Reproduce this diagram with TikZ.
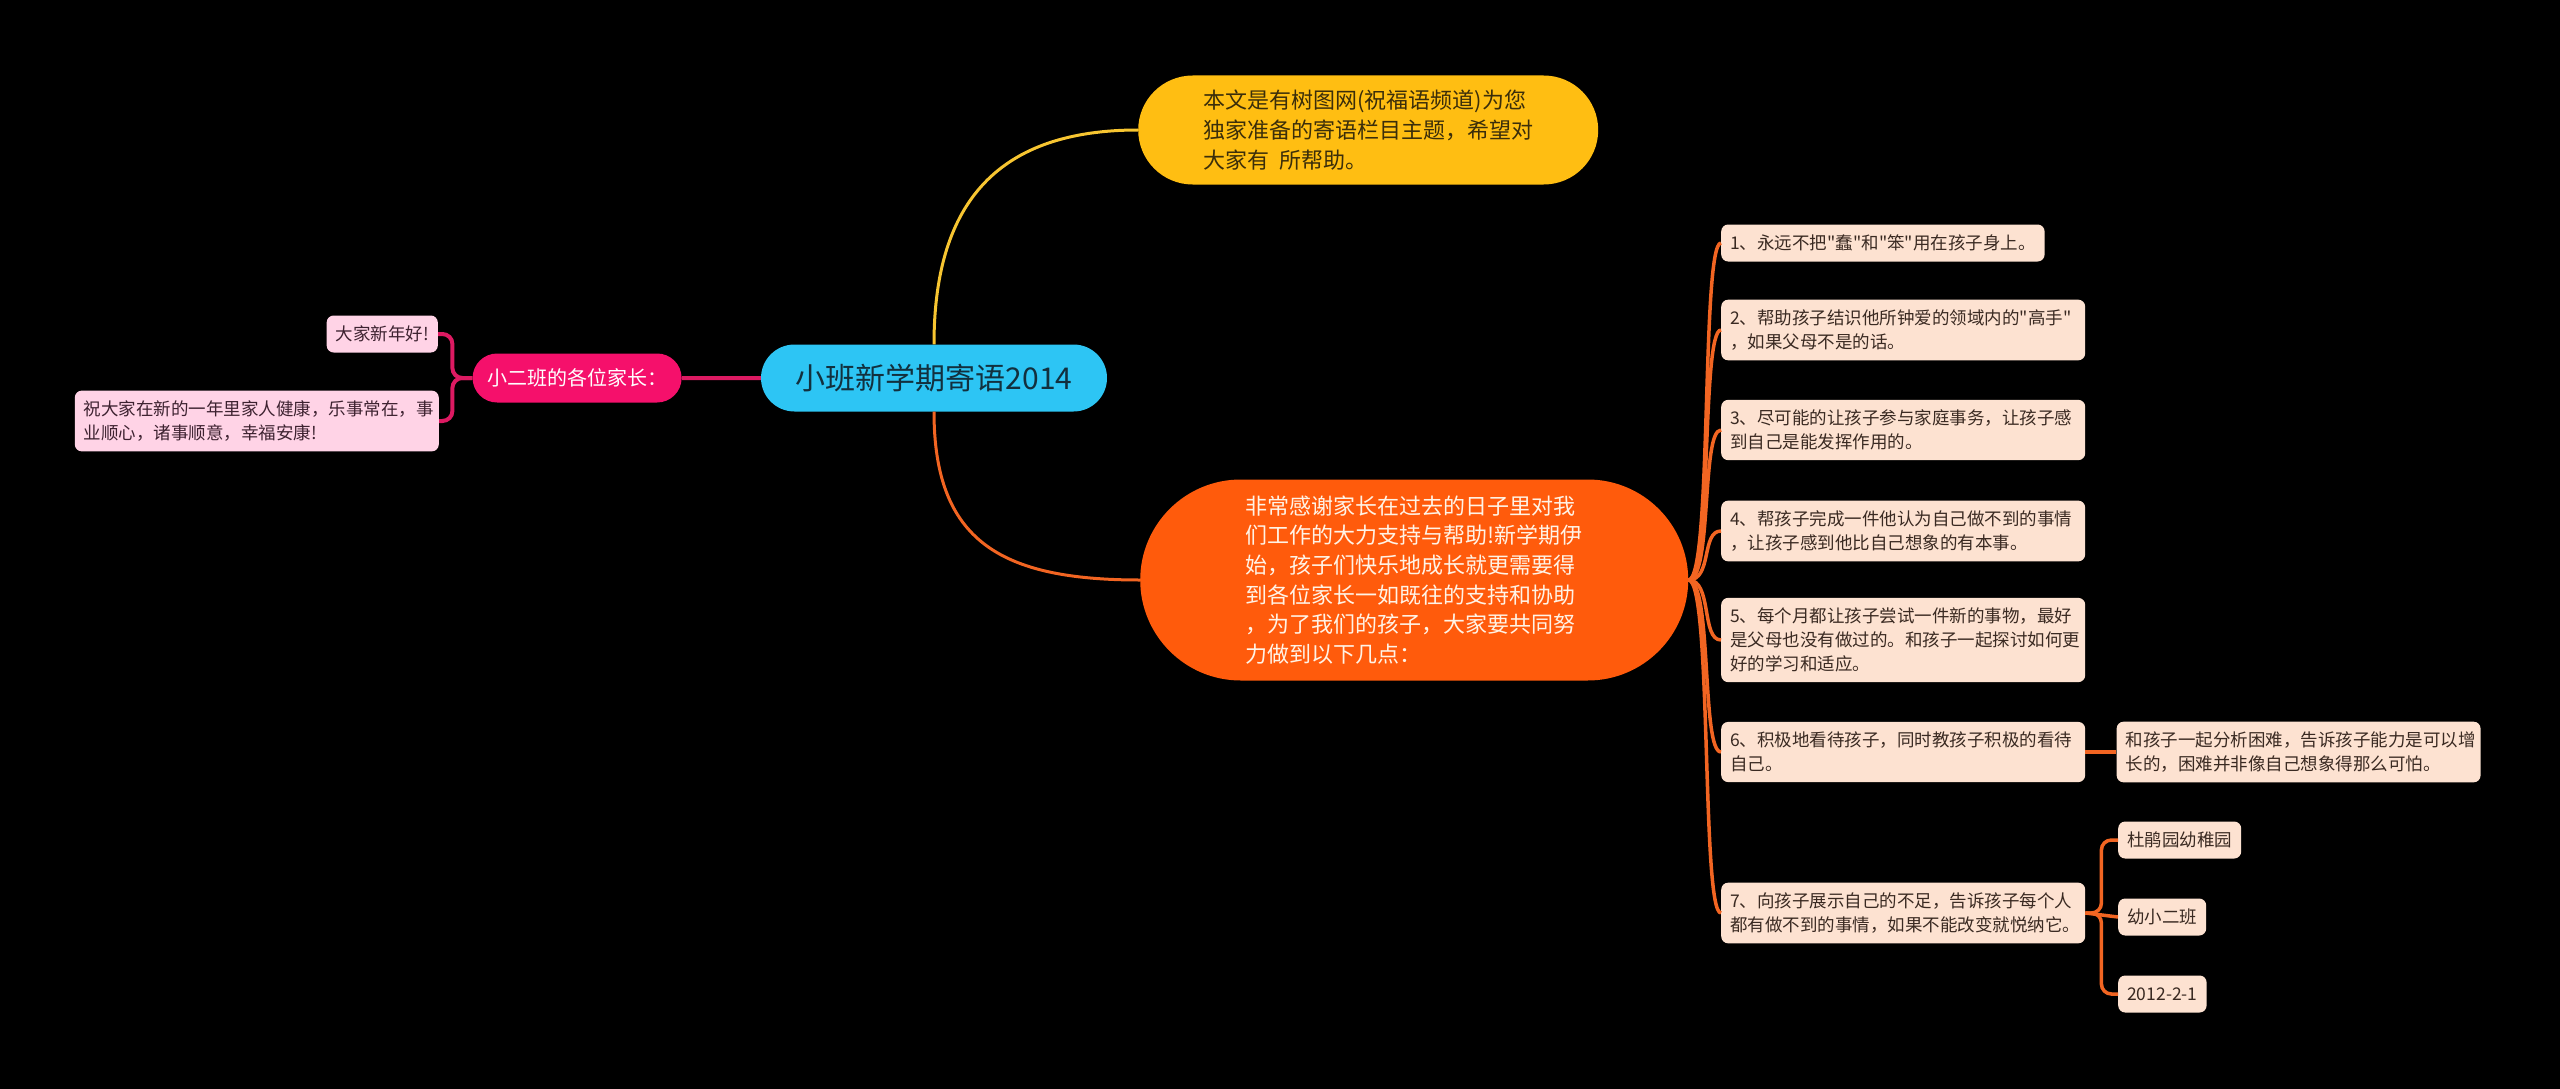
\documentclass[tikz,border=0pt]{standalone}
\usepackage{fontspec}
\setmainfont{Noto Sans CJK SC}[Ligatures=TeXOff]
\usetikzlibrary{positioning,shapes.misc}
\definecolor{rootfill}{HTML}{2DC5F4}
\definecolor{roottext}{HTML}{12303E}
\definecolor{pinkfill}{HTML}{F5106B}
\definecolor{pinkline}{HTML}{DD1A62}
\definecolor{kidfill}{HTML}{FFD3E6}
\definecolor{kidtext}{HTML}{3D2230}
\definecolor{tipfill}{HTML}{FFBE12}
\definecolor{tiptext}{HTML}{3B2E0A}
\definecolor{tipline}{HTML}{F7C531}
\definecolor{thxfill}{HTML}{FF5B0C}
\definecolor{thxtext}{HTML}{FFF3E6}
\definecolor{thxline}{HTML}{F26522}
\definecolor{peach}{HTML}{FDE2D1}
\definecolor{peachtext}{HTML}{3A2A22}
\tikzset{
  pill/.style={rounded rectangle, align=left, inner sep=0pt},
  item/.style={fill=peach, text=peachtext, rounded corners=7pt, align=left, font=\fontsize{17.5}{24}\selectfont, inner xsep=9pt, inner ysep=10pt, minimum height=37pt},
  wide/.style={text width=346pt},
  kid/.style={item, fill=kidfill, text=kidtext},
  tline/.style={tipline, line width=3pt},
  oline/.style={thxline, line width=3.5pt},
  pline/.style={pinkline, line width=4pt},
}
\begin{document}
\begin{tikzpicture}[x=1pt,y=-1pt]
\fill[black] (0,0) rectangle (2560,1089);
\useasboundingbox (0,0) rectangle (2560,1089);

\node[pill, fill=rootfill, text=roottext, minimum width=346pt, minimum height=67pt, font=\fontsize{30}{36}\selectfont] (root) at (934,378) {小班新学期寄语2014};

\node[pill, fill=pinkfill, text=white, minimum width=209pt, minimum height=49pt, font=\fontsize{20}{24}\selectfont, left=79pt of root] (parents) {小二班的各位家长：};
\node[kid, anchor=east] (hello) at (438,334) {大家新年好!};
\node[kid, wide, anchor=east] (wish) at (439,421) {祝大家在新的一年里家人健康，乐事常在，事\\业顺心，诸事顺意，幸福安康!};

\node[pill, fill=tipfill, text=tiptext, minimum width=460pt, minimum height=109pt, font=\fontsize{22}{30}\selectfont, anchor=west] (tip) at (1138,130)
  {本文是有树图网(祝福语频道)为您\\独家准备的寄语栏目主题，希望对\\大家有~~所帮助。};

\node[pill, fill=thxfill, text=thxtext, minimum width=548pt, minimum height=201pt, font=\fontsize{22}{29.7}\selectfont, anchor=west] (thanks) at (1140,580)
  {非常感谢家长在过去的日子里对我\\们工作的大力支持与帮助!新学期伊\\始，孩子们快乐地成长就更需要得\\到各位家长一如既往的支持和协助\\，为了我们的孩子，大家要共同努\\力做到以下几点：};

\node[item, anchor=west] (p1) at (1721,243) {1、永远不把"蠢"和"笨"用在孩子身上。};
\node[item, wide, anchor=west] (p2) at (1721,330) {2、帮助孩子结识他所钟爱的领域内的"高手"\\，如果父母不是的话。};
\node[item, wide, anchor=west] (p3) at (1721,430) {3、尽可能的让孩子参与家庭事务，让孩子感\\到自己是能发挥作用的。};
\node[item, wide, anchor=west] (p4) at (1721,531) {4、帮孩子完成一件他认为自己做不到的事情\\，让孩子感到他比自己想象的有本事。};
\node[item, wide, anchor=west] (p5) at (1721,640) {5、每个月都让孩子尝试一件新的事物，最好\\是父母也没有做过的。和孩子一起探讨如何更\\好的学习和适应。};
\node[item, wide, anchor=west] (p6) at (1721,752) {6、积极地看待孩子，同时教孩子积极的看待\\自己。};
\node[item, wide, anchor=west] (p7) at (1721,913) {7、向孩子展示自己的不足，告诉孩子每个人\\都有做不到的事情，如果不能改变就悦纳它。};

\node[item, wide, right=31pt of p6] (p6a) {和孩子一起分析困难，告诉孩子能力是可以增\\长的，困难并非像自己想象得那么可怕。};
\node[item, anchor=west] (school) at (2118,840) {杜鹃园幼稚园};
\node[item, anchor=west] (class) at (2118,917) {幼小二班};
\node[item, anchor=west] (date) at (2118,994) {2012-2-1};

\draw[pline] (root) -- (parents);
\draw[pline, rounded corners=10pt] (parents.west) -- ++(-20,0) |- (hello.east);
\draw[pline, rounded corners=10pt] (parents.west) -- ++(-20,0) |- (wish.east);

\draw[tline] (root.north) .. controls +(0,-144) and +(-138,0) .. (tip.west);
\draw[tline, thxline] (root.south) .. controls +(0,129) and +(-140,0) .. (thanks.west);

\draw[oline] (thanks.east) .. controls +(24,0) and +(-20,0) .. (p1.west);
\draw[oline] (thanks.east) .. controls +(24,0) and +(-20,0) .. (p2.west);
\draw[oline] (thanks.east) .. controls +(24,0) and +(-20,0) .. (p3.west);
\draw[oline] (thanks.east) .. controls +(24,0) and +(-20,0) .. (p4.west);
\draw[oline] (thanks.east) .. controls +(24,0) and +(-20,0) .. (p5.west);
\draw[oline] (thanks.east) .. controls +(24,0) and +(-20,0) .. (p6.west);
\draw[oline] (thanks.east) .. controls +(24,0) and +(-20,0) .. (p7.west);

\draw[oline] (p6) -- (p6a);
\draw[oline, rounded corners=10pt] (p7.east) -- ++(16,0) |- (school.west);
\draw[oline] (p7.east) -- (class.west);
\draw[oline, rounded corners=10pt] (p7.east) -- ++(16,0) |- (date.west);

\end{tikzpicture}
\end{document}
